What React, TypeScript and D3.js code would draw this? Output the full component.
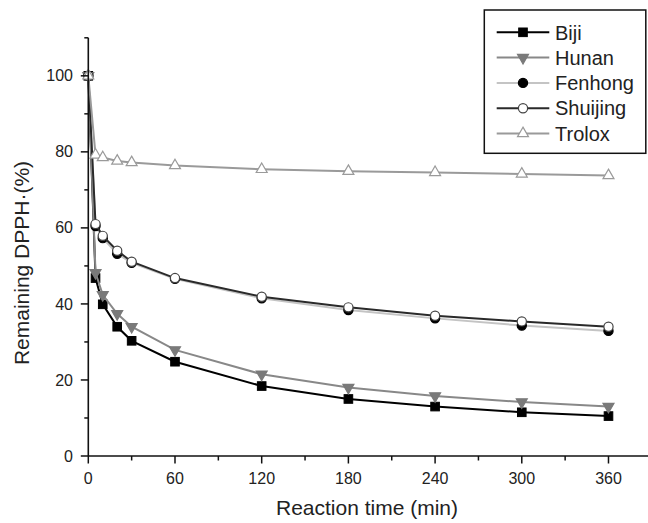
import React from "react";
import * as d3 from "d3";

const time = [0, 5, 10, 20, 30, 60, 120, 180, 240, 300, 360];
const biji = [100, 46.8, 39.9, 34.0, 30.3, 24.8, 18.4, 15.0, 13.0, 11.5, 10.5];
const hunan = [100, 48.2, 42.4, 37.4, 34.0, 27.9, 21.5, 18.0, 15.8, 14.2, 13.0];
const fenhong = [100, 60.5, 57.3, 53.2, 50.8, 46.6, 41.5, 38.4, 36.2, 34.3, 32.9];
const shuijing = [100, 61.0, 57.9, 54.0, 51.1, 46.8, 41.9, 39.1, 36.9, 35.4, 34.0];
const trolox = [100, 79.2, 78.5, 77.6, 77.2, 76.4, 75.4, 74.9, 74.6, 74.2, 73.8];
const seriesNames = ["Biji", "Hunan", "Fenhong", "Shuijing", "Trolox"];
const xTicks = [0, 60, 120, 180, 240, 300, 360];
const xMinor = [30, 90, 150, 210, 270, 330];
const yTicks = [0, 20, 40, 60, 80, 100];
const yMinor = [10, 30, 50, 70, 90, 110];

type Style = { line: string; marker: string; fill: string; stroke: string };
const styles: Style[] = [
  { line: "#000", marker: "square", fill: "#000", stroke: "#000" },
  { line: "#888", marker: "down", fill: "#7a7a7a", stroke: "#7a7a7a" },
  { line: "#c4c4c4", marker: "circle", fill: "#000", stroke: "#000" },
  { line: "#2a2a2a", marker: "circle", fill: "#fff", stroke: "#444" },
  { line: "#9a9a9a", marker: "up", fill: "#fff", stroke: "#9a9a9a" },
];

const FONT = "'Liberation Sans', Arial, sans-serif";

function Marker({ kind, x, y, fill, stroke }: { kind: string; x: number; y: number; fill: string; stroke: string }) {
  if (kind === "square") return <rect x={x - 4.3} y={y - 4.3} width={8.6} height={8.6} fill={fill} stroke={stroke} strokeWidth={1} />;
  if (kind === "circle") return <circle cx={x} cy={y} r={4.6} fill={fill} stroke={stroke} strokeWidth={1.2} />;
  const sym = d3.symbol().type(d3.symbolTriangle).size(52)();
  const rot = kind === "down" ? 180 : 0;
  return <path d={sym || ""} transform={`translate(${x},${y}) rotate(${rot})`} fill={fill} stroke={stroke} strokeWidth={1.2} />;
}

export default function App() {
  const x = d3.scaleLinear().domain([0, 387]).range([88.3, 647.5]);
  const y = d3.scaleLinear().domain([0, 110]).range([456, 37.8]);
  const data = [biji, hunan, fenhong, shuijing, trolox];
  const line = d3.line<number>().x((_, i) => x(time[i])).y((d) => y(d));
  const x0 = x(0);
  const y0 = y(0);

  return (
    <svg width={648} height={523} style={{ position: "absolute", left: 0, top: 0, background: "#fff" }} fontFamily={FONT}>
      <rect width={648} height={523} fill="#fff" />
      {/* series */}
      {data.map((vals, si) => (
        <g key={seriesNames[si]}>
          <path d={line(vals) || ""} fill="none" stroke={styles[si].line} strokeWidth={2} />
          {vals.map((v, i) => (
            <Marker key={i} kind={styles[si].marker} x={x(time[i])} y={y(v)} fill={styles[si].fill} stroke={styles[si].stroke} />
          ))}
        </g>
      ))}
      {/* axes */}
      <line x1={x0} x2={x0} y1={y(110)} y2={y0} stroke="#111" strokeWidth={1.6} />
      <line x1={x0} x2={648} y1={y0} y2={y0} stroke="#111" strokeWidth={1.6} />
      {yTicks.map((t) => (
        <g key={"y" + t}>
          <line x1={x0 - 7.5} x2={x0} y1={y(t)} y2={y(t)} stroke="#111" strokeWidth={1.5} />
          <text x={73} y={y(t)} dy="0.35em" textAnchor="end" fontSize={16} fill="#222">{t}</text>
        </g>
      ))}
      {yMinor.map((t) => (
        <line key={"ym" + t} x1={x0 - 4} x2={x0} y1={y(t)} y2={y(t)} stroke="#111" strokeWidth={1.5} />
      ))}
      {xTicks.map((t) => (
        <g key={"x" + t}>
          <line x1={x(t)} x2={x(t)} y1={y0} y2={y0 + 7.5} stroke="#111" strokeWidth={1.5} />
          <text x={x(t)} y={483.5} textAnchor="middle" fontSize={16} fill="#222">{t}</text>
        </g>
      ))}
      {xMinor.map((t) => (
        <line key={"xm" + t} x1={x(t)} x2={x(t)} y1={y0} y2={y0 + 4.5} stroke="#111" strokeWidth={1.5} />
      ))}
      <text x={367} y={515} textAnchor="middle" fontSize={21} fill="#222">Reaction time (min)</text>
      <text transform="translate(29,263) rotate(-90)" textAnchor="middle" fontSize={21} fill="#222">Remaining DPPH·(%)</text>
      {/* legend */}
      <rect x={484.3} y={10} width={161.5} height={143.3} fill="#fff" stroke="#111" strokeWidth={1.5} />
      {seriesNames.map((name, i) => {
        const ly = 32.3 + i * 25.3;
        return (
          <g key={"lg" + name}>
            <line x1={496.7} x2={549.3} y1={ly} y2={ly} stroke={styles[i].line} strokeWidth={2} />
            <Marker kind={styles[i].marker} x={523} y={ly} fill={styles[i].fill} stroke={styles[i].stroke} />
            <text x={555} y={ly} dy="0.36em" fontSize={20} fill="#222">{name}</text>
          </g>
        );
      })}
    </svg>
  );
}
